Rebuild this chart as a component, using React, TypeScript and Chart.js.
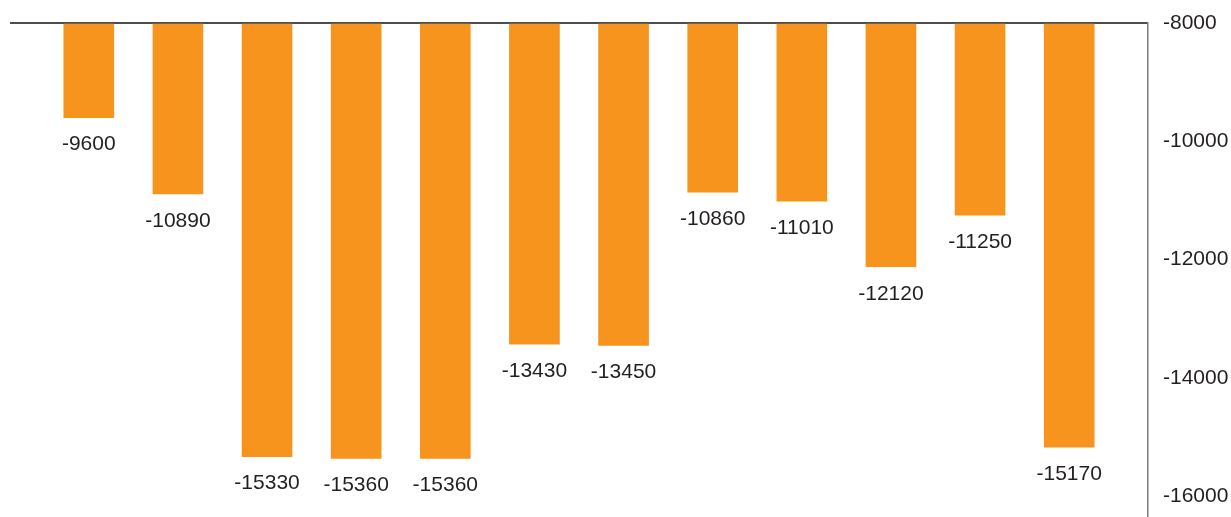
import React, { useEffect, useRef } from "react";
import { Chart, registerables } from "chart.js";

Chart.register(...registerables);

// Values (12 bars, hanging from -8000)
const categories = ["1", "2", "3", "4", "5", "6", "7", "8", "9", "10", "11", "12"];
const values = [-9600, -10890, -15330, -15360, -15360, -13430, -13450, -10860, -11010, -12120, -11250, -15170];
const yTicks = [-8000, -10000, -12000, -14000, -16000];
const yMax = -8000;
const yMin = -16350;

const FONT_FAMILY = '"Liberation Sans", Arial, sans-serif';
const FONT_SIZE = 21;
const TEXT_COLOR = "#231f20";
const BAR_COLOR = "#F7941D";

const valueLabels = {
  id: "valueLabels",
  afterDatasetsDraw(chart: any) {
    const ctx = chart.ctx;
    const meta = chart.getDatasetMeta(0);
    ctx.save();
    ctx.font = `${FONT_SIZE}px ${FONT_FAMILY}`;
    ctx.fillStyle = TEXT_COLOR;
    ctx.textAlign = "center";
    ctx.textBaseline = "middle";
    meta.data.forEach((bar: any, i: number) => {
      ctx.fillText(String(values[i]), bar.x, bar.y + 27);
    });
    ctx.restore();
  },
};

export default function App() {
  const ref = useRef<HTMLCanvasElement | null>(null);

  useEffect(() => {
    document.body.style.margin = "0";
    const canvas = ref.current;
    if (!canvas) return;
    const chart = new Chart(canvas, {
      type: "bar",
      data: {
        labels: categories,
        datasets: [
          {
            data: values.map((v, i) => ({ x: i, y: v })) as any,
            backgroundColor: BAR_COLOR,
            barThickness: 50,
            base: yMax,
            borderWidth: 0,
          } as any,
        ],
      },
      options: {
        animation: false,
        responsive: true,
        maintainAspectRatio: false,
        layout: { padding: { top: 23, left: 10, right: 0, bottom: 0 } },
        plugins: {
          legend: { display: false },
          tooltip: { enabled: false },
        },
        scales: {
          x: {
            type: "linear",
            offset: false,
            min: -0.884,
            max: 11.884,
            display: false,
          },
          y: {
            type: "linear",
            position: "right",
            min: yMin,
            max: yMax,
            afterBuildTicks: (s: any) => {
              s.ticks = yTicks.map((v) => ({ value: v }));
            },
            afterFit: (s: any) => {
              s.width = 83;
              s.paddingTop = 0;
              s.paddingBottom = 0;
            },
            grid: {
              color: (c: any) => (c.tick && c.tick.value === yMax ? "#4d4d4d" : "transparent"),
              lineWidth: 2,
              drawTicks: false,
            },
            border: { color: "#7a7a7a", width: 1.5 },
            ticks: {
              padding: 15,
              color: TEXT_COLOR,
              font: { family: FONT_FAMILY, size: FONT_SIZE },
              callback: (v: any) => String(v),
            },
          },
        },
      },
      plugins: [valueLabels],
    });
    return () => chart.destroy();
  }, []);

  return (
    <div style={{ position: "relative", width: 1231, height: 517 }}>
      <canvas ref={ref} />
    </div>
  );
}
